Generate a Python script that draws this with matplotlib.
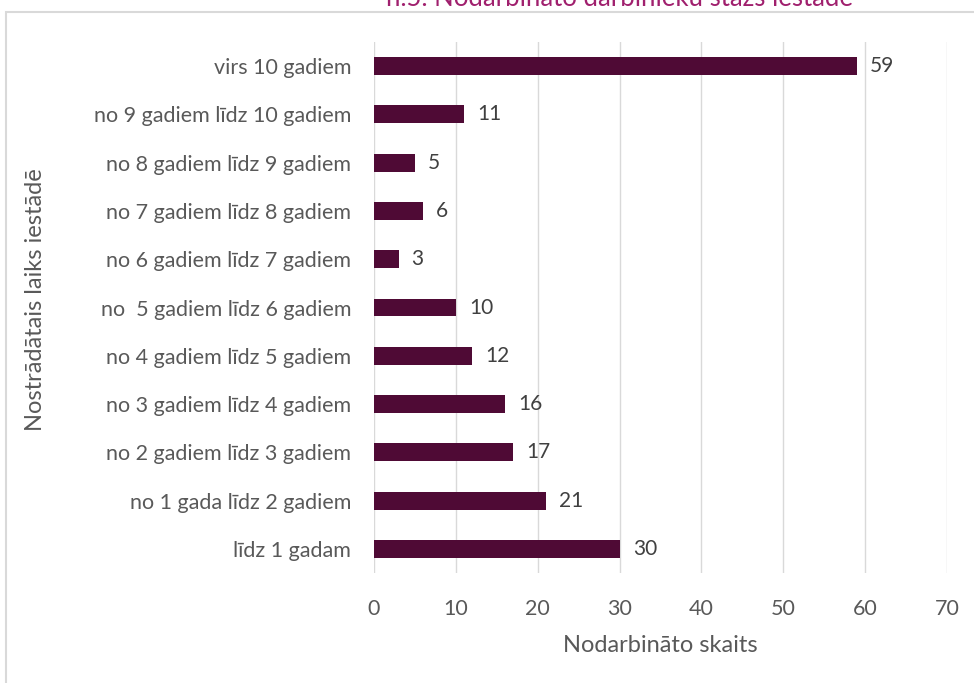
import matplotlib.pyplot as plt
from matplotlib.patches import Rectangle

plt.rcParams['font.family'] = ['Lato', 'DejaVu Sans']

categories = ['līdz 1 gadam', 'no 1 gada līdz 2 gadiem', 'no 2 gadiem līdz 3 gadiem',
              'no 3 gadiem līdz 4 gadiem', 'no 4 gadiem līdz 5 gadiem',
              'no  5 gadiem līdz 6 gadiem', 'no 6 gadiem līdz 7 gadiem',
              'no 7 gadiem līdz 8 gadiem', 'no 8 gadiem līdz 9 gadiem',
              'no 9 gadiem līdz 10 gadiem', 'virs 10 gadiem']
values = [30, 21, 17, 16, 12, 10, 3, 6, 5, 11, 59]
xticks = [0, 10, 20, 30, 40, 50, 60, 70]

grey = '#595959'
fig = plt.figure(figsize=(9.74, 6.83), dpi=100)
ax = fig.add_axes([374/974, 1 - 573/683, (947-374)/974, (573-42)/683])

# outer chart frame (partly outside the picture)
fig.patches.append(Rectangle((6/974, -0.1), 1.1, 1 - 12/683 + 0.1, transform=fig.transFigure,
                             fill=False, edgecolor='#d9d9d9', lw=1.5))

ypos = range(len(categories))
ax.barh(ypos, values, height=0.37, color='#4f0a35', zorder=3)
for y, v in zip(ypos, values):
    ax.text(v + 1.6, y, str(v), va='center', ha='left', fontsize=15, color='#404040')

ax.set_xlim(0, 70)
ax.set_ylim(-0.5, len(categories) - 0.5)
ax.set_xticks(xticks)
ax.set_yticks(list(ypos))
ax.set_yticklabels(categories)
ax.grid(axis='x', color='#d9d9d9', lw=1, zorder=0)
for s in ax.spines.values():
    s.set_visible(False)
ax.tick_params(axis='both', length=0, labelsize=15.5, labelcolor=grey)
ax.tick_params(axis='y', pad=16.5)
ax.tick_params(axis='x', pad=19)
ax.set_xlabel('Nodarbināto skaits', fontsize=17, color=grey, labelpad=11)
fig.text(36/974, 1 - 300/683, 'Nostrādātais laiks iestādē', rotation=90, fontsize=17,
         color=grey, ha='center', va='center')

fig.text(620/974, 1 + 2/683, 'n.5. Nodarbināto darbinieku stāžs iestādē', fontsize=18.5,
         color='#a0206e', ha='center', va='center')

fig.savefig('out.png', dpi=100)
